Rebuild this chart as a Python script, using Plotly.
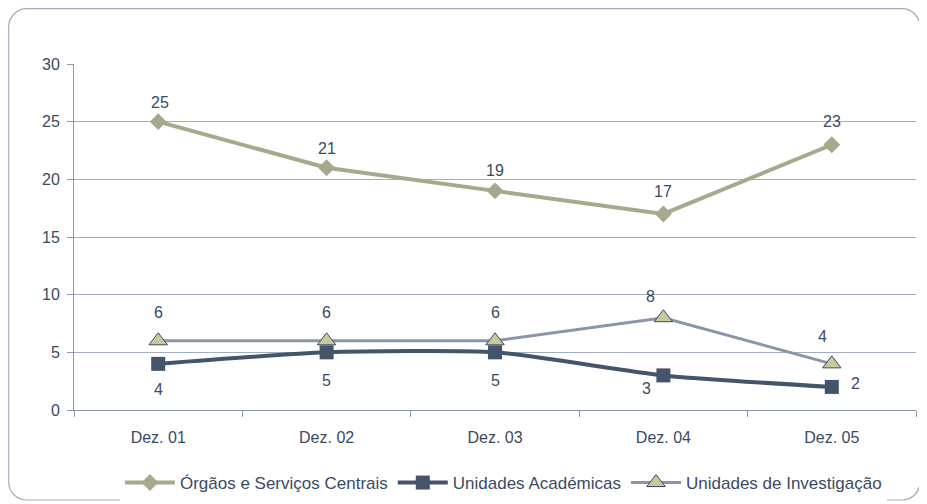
import plotly.graph_objects as go

categories = ["Dez. 01", "Dez. 02", "Dez. 03", "Dez. 04", "Dez. 05"]
orgaos = [25, 21, 19, 17, 23]
academicas = [4, 5, 5, 3, 2]
investigacao = [6, 6, 6, 8, 4]
y_ticks = [0, 5, 10, 15, 20, 25, 30]

# label offsets in pixels (style only)
orgaos_dx = [2, 0, 0, 0, 0]
orgaos_dy = [19, 19, 20, 22, 23]
acad_dx = [0, 0, 0, -17, 24]
acad_dy = [-26, -28, -28, -13, 3]
inv_dx = [0, 0, 0, -13, -9]
inv_dy = [28, 28, 28, 21, 27]

# page has an 8px body margin: figure sits at (8, 8)
OFF = 8
W, H = 927 - OFF, 504 - OFF
ML, MR, MT, MB = 74 - OFF, 11, 64 - OFF, 94
PW, PH = W - ML - MR, H - MT - MB

font_col = "#3B4A63"
FAM = "Liberation Sans, Arial, sans-serif"
fnt = dict(family=FAM, size=16, color=font_col)

fig = go.Figure()
fig.add_trace(go.Scatter(
    x=categories, y=orgaos, name="Órgãos e Serviços Centrais",
    mode="lines+markers",
    line=dict(color="#A8A88C", width=4),
    marker=dict(symbol="diamond", size=13, color="#A8A88C"),
))
fig.add_trace(go.Scatter(
    x=categories, y=academicas, name="Unidades Académicas",
    mode="lines+markers",
    line=dict(color="#44546A", width=4, shape="spline", smoothing=0.6),
    marker=dict(symbol="square", size=14, color="#44546A"),
))
fig.add_trace(go.Scatter(
    x=categories, y=investigacao, name="Unidades de Investigação",
    mode="lines+markers",
    line=dict(color="#8A95A8", width=3),
    marker=dict(symbol="triangle-up", size=16, color="#C8C89C",
                line=dict(color="#3B4A63", width=1)),
))

annotations = []
for vals, dxs, dys in ((orgaos, orgaos_dx, orgaos_dy),
                       (academicas, acad_dx, acad_dy),
                       (investigacao, inv_dx, inv_dy)):
    for c, v, dx, dy in zip(categories, vals, dxs, dys):
        annotations.append(dict(x=c, y=v, xref="x", yref="y", text=str(v),
                                showarrow=False, xshift=dx, yshift=dy,
                                font=fnt, xanchor="center", yanchor="middle"))

def px(x):
    return (x - ML) / PW

def py(y):
    return (H - MB - y) / PH

x0, y0, x1, y1, r = 0.7, 0.7, 912, 492, 18
k = 0.45
path = (
    f"M {px(x0 + r)},{py(y0)} L {px(x1 - r)},{py(y0)} "
    f"C {px(x1 - r * k)},{py(y0)} {px(x1)},{py(y0 + r * k)} {px(x1)},{py(y0 + r)} "
    f"L {px(x1)},{py(y1 - r)} "
    f"C {px(x1)},{py(y1 - r * k)} {px(x1 - r * k)},{py(y1)} {px(x1 - r)},{py(y1)} "
    f"L {px(x0 + r)},{py(y1)} "
    f"C {px(x0 + r * k)},{py(y1)} {px(x0)},{py(y1 - r * k)} {px(x0)},{py(y1 - r)} "
    f"L {px(x0)},{py(y0 + r)} "
    f"C {px(x0)},{py(y0 + r * k)} {px(x0 + r * k)},{py(y0)} {px(x0 + r)},{py(y0)} Z"
)

fig.update_layout(
    width=W, height=H,
    margin=dict(l=ML, r=MR, t=MT, b=MB, autoexpand=False),
    paper_bgcolor="white", plot_bgcolor="white",
    font=fnt,
    showlegend=True,
    legend=dict(orientation="h", x=0.51, xanchor="center", y=-0.211, yanchor="middle",
                font=dict(family=FAM, size=17, color=font_col),
                itemwidth=50, tracegroupgap=0),
    annotations=annotations,
    shapes=[dict(type="path", xref="paper", yref="paper", path=path,
                 line=dict(color="#A3ADBD", width=1.2), fillcolor="rgba(0,0,0,0)", layer="below")],
    xaxis=dict(
        type="category", range=[-0.5, 4.5],
        showgrid=False, showline=True, linecolor="#8A97AC", linewidth=1,
        ticks="outside", tickson="boundaries", ticklen=6, tickcolor="#8A97AC",
        tickfont=fnt, zeroline=False, ticklabelstandoff=13,
    ),
    yaxis=dict(
        range=[0, 30], tickvals=y_ticks,
        showgrid=True, gridcolor="#A3ADBD", gridwidth=1,
        showline=True, linecolor="#8A97AC", linewidth=1,
        ticks="outside", ticklen=6, tickcolor="#8A97AC",
        tickfont=fnt, zeroline=False, ticklabelstandoff=4,
    ),
)

fig.write_html("out.html")
